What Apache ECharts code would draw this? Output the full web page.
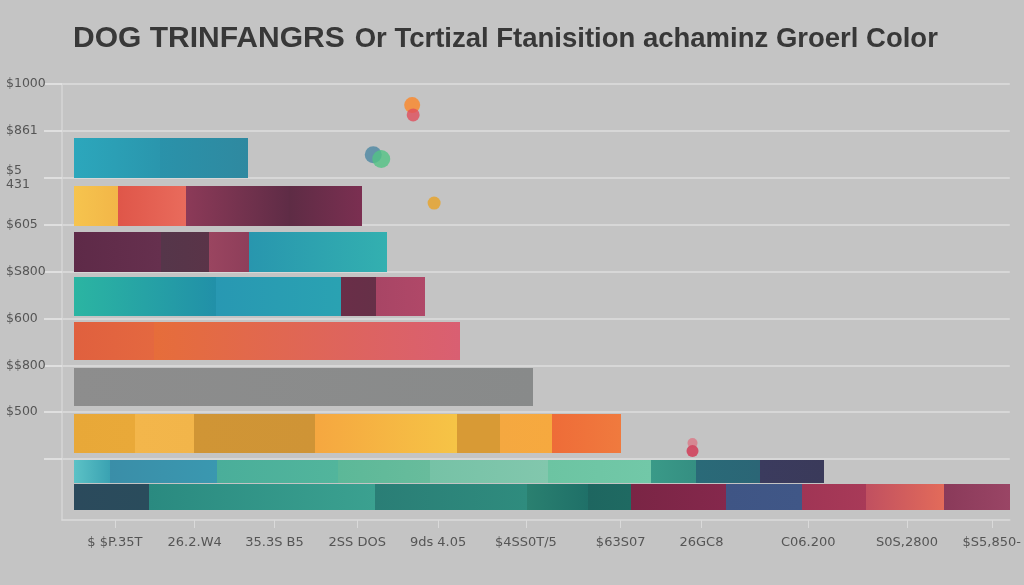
<!DOCTYPE html>
<html><head><meta charset="utf-8">
<script src="https://cdn.jsdelivr.net/npm/echarts@6/dist/echarts.min.js"></script>
<style>html,body{margin:0;padding:0;background:#c4c4c4}#c{width:1024px;height:585px}</style>
</head><body><div id="c"></div>
<script>
// ---- text ----
const titleMain = 'DOG TRINFANGRS';
const titleSub = 'Or Tcrtizal Ftanisition achaminz Groerl Color';
const yTickValues = [0, 1, 2, 3, 4, 5, 6, 7];
const yTickLabels = ['$1000', '$861', '$5\n431', '$605', '$S800', '$600', '$$800', '$500'];
const yTickMarks = [0, 1, 2, 3, 4, 5, 6, 7, 8];
const xTickValues = [41, 121, 201, 284, 365, 453, 548, 629, 736, 835, 920];
const xTickLabels = ['$ $P.35T', '26.2.W4', '35.3S B5', '2SS DOS', '9ds 4.05', '$4SS0T/5', '$63S07', '26GC8', 'C06.200', 'S0S,2800', '$S5,850-'];

// ---- rows (band on the vertical value scale) ----
const rowBands = [[1.15, 2.0], [2.17, 3.03], [3.16, 4.01], [4.12, 4.95], [5.08, 5.89], [6.06, 6.87], [7.04, 7.87], [8.02, 8.51], [8.53, 9.08]];

// ---- stacked segment values per row ----
const row1Values = [86, 88];
const row2Values = [44, 68, 104, 73];
const row3Values = [87, 48, 40, 139];
const row4Values = [142, 126, 35, 49];
const row5Values = [80, 307];
const row6Values = [460];
const row7Values = [61, 59, 122, 142, 43, 52, 69];
const row8Values = [36, 107, 122, 92, 118, 103, 46, 64, 64];
const row9Values = [75, 227, 152, 61, 43, 96, 76, 64, 78, 66];

// ---- segment colours (left -> right) ----
const row1Colors = [['#2ca7bc', '#2a96ad'], ['#2a92aa', '#2f89a0']];
const row2Colors = [['#f6c44e', '#f2b648'], ['#df5649', '#e96b5c'], ['#8c3a58', '#5f2c46'], ['#5e2c45', '#7b2f51']];
const row3Colors = [['#5e2a48', '#66304e'], ['#55364a', '#5a3448'], ['#9a4560', '#8e3e5a'], ['#2896ae', '#33b0b0']];
const row4Colors = [['#2bb5a2', '#2190a8'], ['#2898b2', '#2aa2b2'], ['#6a2e48', '#663048'], ['#a84565', '#b04868']];
const row5Colors = [['#e0603e', '#e46840'], ['#e66d3a', '#d95f72']];
const row6Colors = [['#8d8d8d', '#888a8a']];
const row7Colors = [['#e8a838', '#e9a939'], ['#f3b64b', '#f2b54a'], ['#d09535', '#cf9436'], ['#f5a740', '#f6c446'], ['#d89a35', '#d89a35'], ['#f5a840', '#f6a93f'], ['#ee6c38', '#f07a3e']];
const row8Colors = [['#5cc2c6', '#3aa2b2'], ['#3a8ea8', '#3a98b0'], ['#4aae9a', '#52b59c'], ['#5cb898', '#68bc9c'], ['#76c2a6', '#82c7ad'], ['#6cc4a2', '#72c8a8'], ['#3a9a88', '#358f82'], ['#2a6a78', '#2b6676'], ['#3b3b5e', '#3a3a5a']];
const row9Colors = [['#2b4a5c', '#2a4c5c'], ['#2a8a80', '#3ba190'], ['#2a7e76', '#2f8c7e'], ['#2a8070', '#1f7068'], ['#1e6660', '#1f6a62'], ['#7a2545', '#85284c'], ['#3f5585', '#405787'], ['#a03555', '#a83a58'], ['#c05060', '#e36b5a'], ['#8a3a5a', '#9a4565']];

// ---- dots ----
const dotX = [339, 340, 300, 308, 361, 620, 620];
const dotY = [0.45, 0.66, 1.51, 1.60, 2.54, 7.66, 7.83];
const dotColors = ['#f39040', '#e04f5c', '#5a8ea6', '#52c384', '#e3a83e', '#d97c8a', '#d04a62'];

const rowValues = [row1Values, row2Values, row3Values, row4Values, row5Values, row6Values, row7Values, row8Values, row9Values];
const rowColors = [row1Colors, row2Colors, row3Colors, row4Colors, row5Colors, row6Colors, row7Colors, row8Colors, row9Colors];

const segData = [];
const segColors = [];
rowValues.forEach((vals, r) => {
  let acc = 0;
  vals.forEach((v, i) => {
    segData.push([acc, acc + v, rowBands[r][0], rowBands[r][1]]);
    segColors.push(rowColors[r][i]);
    acc += v;
  });
});

const dotSizes = [16, 13, 17, 18, 13, 10, 12];
const dotOpac = [0.95, 0.8, 0.9, 0.8, 0.95, 0.85, 0.95];

const chart = echarts.init(document.getElementById('c'));
chart.setOption({
  backgroundColor: '#c4c4c4',
  animation: false,
  title: {
    text: '{a|' + titleMain + '}  {b|' + titleSub + '}',
    left: 68, top: 19,
    textStyle: {
      rich: {
        a: { fontFamily: 'Liberation Sans', fontWeight: 'bold', fontSize: 30, color: '#383838' },
        b: { fontFamily: 'Liberation Sans', fontWeight: 'bold', fontSize: 27.5, color: '#383838' }
      }
    }
  },
  grid: { left: 62, right: 12, top: 84, bottom: 65, containLabel: false },
  xAxis: {
    type: 'value', min: -12, max: 938,
    axisLine: { show: true, onZero: false, lineStyle: { color: '#dadada', width: 1.5 } },
    axisTick: { show: true, customValues: xTickValues, length: 8, lineStyle: { color: '#dadada' } },
    axisLabel: {
      customValues: xTickValues,
      formatter: v => xTickLabels[xTickValues.indexOf(v)] || '',
      color: '#555', fontSize: 13, margin: 16, fontFamily: 'DejaVu Sans'
    },
    splitLine: { show: false }
  },
  yAxis: {
    type: 'value', inverse: true, min: 0, max: 9.3, interval: 1,
    axisLine: { show: true, onZero: false, lineStyle: { color: '#d6d6d6', width: 1.5 } },
    axisTick: { show: true, customValues: yTickMarks, length: 18, lineStyle: { color: '#e8e8e8', width: 1.5 } },
    axisLabel: {
      customValues: yTickValues,
      formatter: v => yTickLabels[yTickValues.indexOf(v)] || '',
      align: 'left', margin: 56, color: '#555', fontSize: 12.5, lineHeight: 14, fontFamily: 'DejaVu Sans'
    },
    splitLine: { show: true, lineStyle: { color: '#dedede', width: 1.5 } }
  },
  series: [
    {
      type: 'custom',
      encode: { x: [0, 1], y: [2, 3] },
      data: segData,
      renderItem: (params, api) => {
        const p0 = api.coord([api.value(0), api.value(2)]);
        const p1 = api.coord([api.value(1), api.value(3)]);
        const c = segColors[params.dataIndex];
        const x0 = Math.round(p0[0]), x1 = Math.round(p1[0]);
        const y0 = Math.round(p0[1]), y1 = Math.round(p1[1]);
        return {
          type: 'rect',
          shape: { x: x0, y: y0, width: x1 - x0, height: y1 - y0 },
          style: { fill: new echarts.graphic.LinearGradient(0, 0, 1, 0, [{ offset: 0, color: c[0] }, { offset: 1, color: c[1] }]) }
        };
      },
      z: 2
    },
    {
      type: 'scatter',
      data: dotX.map((x, i) => ({
        value: [x, dotY[i]],
        symbolSize: dotSizes[i],
        itemStyle: { color: dotColors[i], opacity: dotOpac[i] }
      })),
      z: 3
    }
  ]
});
</script>
</body></html>
